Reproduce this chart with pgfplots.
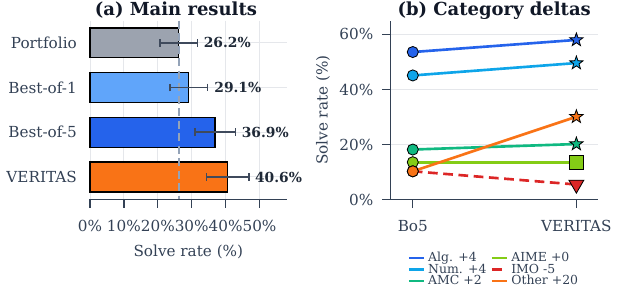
\documentclass[border=0pt]{standalone}
\usepackage{pgfplots}
\pgfplotsset{compat=1.18}
\usepackage{fontspec}
\setmainfont{DejaVu Serif}
\definecolor{axc}{HTML}{334155}
\definecolor{gridc}{HTML}{E5E7EB}
\definecolor{titc}{HTML}{111827}
\definecolor{labc}{HTML}{1F2937}
\definecolor{errc}{HTML}{3F4A5C}
\definecolor{cport}{HTML}{9CA3AF}
\definecolor{cbo1}{HTML}{60A5FA}
\definecolor{cbo5}{HTML}{2563EB}
\definecolor{cver}{HTML}{F97316}
\definecolor{cdash}{HTML}{94A3B8}
\definecolor{calg}{HTML}{2563EB}
\definecolor{cnum}{HTML}{0EA5E9}
\definecolor{camc}{HTML}{10B981}
\definecolor{caime}{HTML}{84CC16}
\definecolor{cimo}{HTML}{DC2626}
\definecolor{coth}{HTML}{F97316}
\pgfdeclareplotmark{fstar}{%
  \pgfpathmoveto{\pgfpointpolar{90}{\pgfplotmarksize}}%
  \pgfpathlineto{\pgfpointpolar{126}{0.4\pgfplotmarksize}}%
  \pgfpathlineto{\pgfpointpolar{162}{\pgfplotmarksize}}%
  \pgfpathlineto{\pgfpointpolar{198}{0.4\pgfplotmarksize}}%
  \pgfpathlineto{\pgfpointpolar{234}{\pgfplotmarksize}}%
  \pgfpathlineto{\pgfpointpolar{270}{0.4\pgfplotmarksize}}%
  \pgfpathlineto{\pgfpointpolar{306}{\pgfplotmarksize}}%
  \pgfpathlineto{\pgfpointpolar{342}{0.4\pgfplotmarksize}}%
  \pgfpathlineto{\pgfpointpolar{18}{\pgfplotmarksize}}%
  \pgfpathlineto{\pgfpointpolar{54}{0.4\pgfplotmarksize}}%
  \pgfpathclose
  \pgfusepathqfillstroke}
\pgfdeclareplotmark{tridown}{%
  \pgfpathmoveto{\pgfpointpolar{270}{\pgfplotmarksize}}%
  \pgfpathlineto{\pgfpointpolar{30}{\pgfplotmarksize}}%
  \pgfpathlineto{\pgfpointpolar{150}{\pgfplotmarksize}}%
  \pgfpathclose
  \pgfusepathqfillstroke}
\pgfplotstableread{
y x err lx label
0 26.2 5.5 33.5 26.2\%
1 29.1 5.6 36.6 29.1\%
2 36.9 6.0 44.7 36.9\%
3 40.6 6.2 48.6 40.6\%
}\maindata
\pgfplotsset{
  bo5mark/.style={forget plot, draw=none, mark=*, mark size=4bp, mark options={solid, draw=black, line width=0.6bp, fill=#1}},
  vermark/.style 2 args={forget plot, draw=none, mark=#2, mark options={solid, draw=black, line width=0.6bp, fill=#1}},
}
\begin{document}
\begin{tikzpicture}
\useasboundingbox (0,0) rectangle (449.28bp,210.96bp);
% ---------- (a)
\begin{axis}[
  at={(64.8bp,67.46bp)}, anchor=south west,
  width=141.6bp, height=128.7bp, scale only axis,
  xmin=0, xmax=58, ymin=-0.5, ymax=3.5, y dir=reverse,
  axis x line*=bottom, axis y line*=left,
  axis line style={-, axc, line width=0.9bp},
  y axis line style={draw=none},
  xtick={0,10,20,30,40,50},
  xticklabel={\pgfmathprintnumber{\tick}\%},
  ytick={0,1,2,3},
  yticklabels={Portfolio,Best-of-1,Best-of-5,VERITAS},
  tick align=outside, major tick length=6bp,
  x tick style={axc, line width=0.9bp},
  y tick style={draw=none},
  grid=major, major grid style={gridc, line width=0.7bp},
  /pgf/number format/assume math mode=true,
  tick label style={font=\fontsize{11}{13}\selectfont, text=axc},
  xticklabel style={yshift=-5.5bp},
  xlabel={Solve rate (\%)},
  xlabel style={font=\fontsize{11}{13}\selectfont, text=axc, yshift=-3bp},
  title={\textbf{(a) Main results}},
  every axis title shift=0pt,
  title style={font=\fontsize{13}{15}\selectfont, text=titc, at={(axis description cs:0.437,1)}, anchor=base, yshift=4bp},
  clip=false,
]
\addplot[xbar, bar width=0.67, fill=cport, draw=black, line width=0.9bp] coordinates {(26.2,0)};
\addplot[xbar, bar width=0.67, fill=cbo1, draw=black, line width=0.9bp] coordinates {(29.1,1)};
\addplot[xbar, bar width=0.67, fill=cbo5, draw=black, line width=0.9bp] coordinates {(36.9,2)};
\addplot[xbar, bar width=0.67, fill=cver, draw=black, line width=0.9bp] coordinates {(40.6,3)};
\addplot[cdash, line width=1.4bp, dash pattern=on 6bp off 3bp] coordinates {(26.2,-0.5) (26.2,3.5)};
\addplot[draw=none, mark=none, error bars/.cd, x dir=both, x explicit,
  error bar style={errc, line width=1.2bp}, error mark options={errc, line width=1.2bp, mark size=2.8bp, rotate=90}]
  table[x=x, y=y, x error=err] {\maindata};
\addplot[draw=none, mark=none, nodes near coords, point meta=explicit symbolic,
  nodes near coords style={anchor=west, inner sep=0pt, font=\fontsize{10}{12}\selectfont\bfseries, text=labc}]
  table[x=lx, y=y, meta=label] {\maindata};
\end{axis}
% ---------- (b)
\begin{axis}[
  at={(281.3bp,67.2bp)}, anchor=south west,
  width=149bp, height=128.9bp, scale only axis,
  xmin=-0.135, xmax=1.13, ymin=0, ymax=65,
  axis x line*=bottom, axis y line*=left,
  axis line style={-, axc, line width=0.9bp},
  xtick={0,1}, xticklabels={Bo5,VERITAS},
  ytick={0,20,40,60},
  yticklabel={\pgfmathprintnumber{\tick}\%},
  tick align=outside, major tick length=6bp,
  tick style={axc, line width=0.9bp},
  ymajorgrids, major grid style={gridc, line width=0.7bp},
  /pgf/number format/assume math mode=true,
  tick label style={font=\fontsize{11}{13}\selectfont, text=axc},
  xticklabel style={yshift=-5.5bp},
  yticklabel style={xshift=-3bp},
  ylabel={Solve rate (\%)},
  ylabel style={font=\fontsize{11}{13}\selectfont, text=axc},
  title={\textbf{(b) Category deltas}},
  every axis title shift=0pt,
  title style={font=\fontsize{13}{15}\selectfont, text=titc, at={(axis description cs:0.5,1)}, anchor=base, yshift=4bp},
  clip=false,
  legend columns=2,
  legend style={draw=none, fill=none, at={(0.5,-0.262)}, anchor=north,
    font=\fontsize{9}{9}\selectfont, text=axc, row sep=-4bp,
    /tikz/every even column/.append style={column sep=1bp}},
  legend cell align=left,
  legend image code/.code={\draw[#1, mark=none] (0bp,0bp) -- (11bp,0bp);},
]
% Alg.
\addplot[calg, line width=1.9bp] coordinates {(0,53.6) (1,58.0)};
\addlegendentry{Alg. +4}
\addplot[bo5mark=calg] coordinates {(0,53.6)};
\addplot[vermark={calg}{fstar}, mark size=5bp] coordinates {(1,58.0)};
% AIME
\addplot[caime, line width=1.9bp] coordinates {(0,13.6) (1,13.6)};
\addlegendentry{AIME +0}
\addplot[bo5mark=caime] coordinates {(0,13.6)};
\addplot[vermark={caime}{square*}, mark size=5bp] coordinates {(1,13.6)};
% Num.
\addplot[cnum, line width=1.9bp] coordinates {(0,45.1) (1,49.6)};
\addlegendentry{Num. +4}
\addplot[bo5mark=cnum] coordinates {(0,45.1)};
\addplot[vermark={cnum}{fstar}, mark size=5bp] coordinates {(1,49.6)};
% IMO
\addplot[cimo, line width=1.9bp, dash pattern=on 7bp off 4bp] coordinates {(0,10.3) (1,5.5)};
\addlegendentry{IMO -5}
\addplot[bo5mark=cimo] coordinates {(0,10.3)};
\addplot[vermark={cimo}{tridown}, mark size=6.2bp] coordinates {(1,5.5)};
% AMC
\addplot[camc, line width=1.9bp] coordinates {(0,18.2) (1,20.2)};
\addlegendentry{AMC +2}
\addplot[bo5mark=camc] coordinates {(0,18.2)};
\addplot[vermark={camc}{fstar}, mark size=5bp] coordinates {(1,20.2)};
% Other
\addplot[coth, line width=1.9bp] coordinates {(0,10.3) (1,30.1)};
\addlegendentry{Other +20}
\addplot[bo5mark=coth] coordinates {(0,10.3)};
\addplot[vermark={coth}{fstar}, mark size=5bp] coordinates {(1,30.1)};
\end{axis}
\end{tikzpicture}
\end{document}
